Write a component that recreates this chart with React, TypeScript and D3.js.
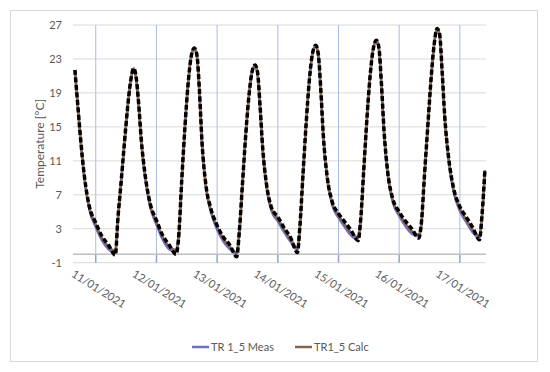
import React from "react";
import * as d3 from "d3";

const width = 550, height = 372;

// hours since 10/01/2021 00:00
const hours = [
  15.75, 17, 18, 19.5, 21.5,
  24, 26.5, 29, 31.75, 32.75, 34, 35.25, 36.5, 37.75, 39, 40, 41, 42, 43.5, 45.5,
  48, 50.5, 53, 55.75, 56.75, 58, 59.25, 60.5, 61.75, 63, 64, 65, 66, 67.5, 69.5,
  72, 74.5, 77, 79.75, 80.75, 82, 83.25, 84.5, 85.75, 87, 88, 89, 90, 91.5, 93.5,
  96, 98.5, 101, 103.75, 104.75, 106, 107.25, 108.5, 109.75, 111, 112, 113, 114, 115.5, 117.5,
  120, 122.5, 125, 127.75, 128.75, 130, 131.25, 132.5, 133.75, 135, 136, 137, 138, 139.5, 141.5,
  144, 146.5, 149, 151.75, 152.75, 154, 155.25, 156.5, 157.75, 159, 160, 161, 162, 163.5, 165.5,
  168, 170.5, 173, 175.75, 176.75, 177.9,
];

const measValues = [
  21.6, 17.0, 13.4, 9.0, 5.2,
  3.2, 1.6, 0.6, 0.2, 4.0, 8.4, 12.8, 17.0, 20.3, 21.8, 20.6, 17.3, 13.2, 9.1, 5.6,
  3.5, 1.7, 0.6, 0.3, 1.8, 8.6, 14.9, 20.0, 23.3, 24.2, 23.3, 19.0, 13.0, 8.0, 5.0,
  2.9, 1.5, 0.6, 0.0, 2.4, 8.1, 13.8, 18.4, 21.4, 22.2, 21.2, 17.1, 12.3, 8.0, 5.1,
  3.9, 2.6, 1.5, 0.5, 3.2, 9.5, 15.6, 20.6, 23.7, 24.5, 23.4, 19.1, 13.7, 8.9, 5.8,
  4.3, 3.2, 2.2, 1.8, 3.8, 9.9, 16.0, 21.0, 24.2, 25.1, 24.1, 19.7, 14.3, 9.3, 6.1,
  4.5, 3.3, 2.4, 2.1, 3.4, 9.2, 14.8, 20.2, 24.5, 26.5, 25.7, 21.2, 16.0, 11.2, 7.4,
  5.1, 3.8, 2.6, 1.9, 4.4, 9.8,
];

const calcValues = [
  21.7, 17.1, 13.5, 9.1, 5.4,
  3.5, 1.9, 0.9, 0.4, 4.1, 8.4, 12.8, 17.0, 20.3, 21.9, 20.7, 17.5, 13.4, 9.3, 5.8,
  3.8, 2.0, 0.9, 0.5, 1.9, 8.7, 14.9, 20.0, 23.3, 24.3, 23.4, 19.2, 13.2, 8.2, 5.2,
  3.2, 1.8, 0.9, 0.2, 2.5, 8.2, 13.8, 18.4, 21.4, 22.3, 21.3, 17.3, 12.5, 8.2, 5.3,
  4.2, 2.9, 1.8, 0.7, 3.3, 9.6, 15.6, 20.6, 23.7, 24.6, 23.5, 19.3, 13.9, 9.1, 6.0,
  4.6, 3.5, 2.5, 2.0, 3.9, 10.0, 16.0, 21.0, 24.2, 25.2, 24.2, 19.9, 14.5, 9.5, 6.3,
  4.8, 3.6, 2.7, 2.3, 3.5, 9.3, 14.8, 20.2, 24.5, 26.6, 25.8, 21.4, 16.2, 11.4, 7.6,
  5.4, 4.1, 2.9, 2.1, 4.5, 9.9,
];

// black dashed overlay (no legend entry)
const dashedValues = [
  21.7, 17.2, 13.6, 9.2, 5.6,
  3.7, 2.1, 1.1, -0.1, 4.2, 8.4, 12.8, 17.0, 20.3, 21.9, 20.8, 17.6, 13.5, 9.4, 6.0,
  4.0, 2.2, 1.1, 0.0, 1.9, 8.7, 14.9, 20.0, 23.3, 24.3, 23.5, 19.3, 13.3, 8.3, 5.4,
  3.4, 2.0, 1.1, -0.3, 2.6, 8.2, 13.8, 18.4, 21.4, 22.3, 21.4, 17.4, 12.6, 8.3, 5.5,
  4.4, 3.1, 2.0, 0.2, 3.4, 9.6, 15.6, 20.6, 23.7, 24.6, 23.6, 19.4, 14.0, 9.2, 6.2,
  4.8, 3.8, 2.8, 1.6, 4.0, 10.0, 16.0, 21.0, 24.2, 25.2, 24.3, 20.0, 14.6, 9.6, 6.5,
  5.0, 3.9, 3.0, 1.9, 3.6, 9.3, 14.8, 20.2, 24.5, 26.6, 25.9, 21.5, 16.3, 11.5, 7.8,
  5.6, 4.4, 3.2, 1.7, 4.6, 9.9,
];

const dayLabels = ["11/01/2021", "12/01/2021", "13/01/2021", "14/01/2021", "15/01/2021", "16/01/2021", "17/01/2021"];
const yTicks = [-1, 3, 7, 11, 15, 19, 23, 27];

const t0 = new Date(2021, 0, 10, 0, 0);
const toDate = (h: number) => new Date(t0.getTime() + h * 3600 * 1000);
const dayDates = dayLabels.map((_, i) => new Date(2021, 0, 11 + i));

const font = "Lato, 'Open Sans', sans-serif";
const textColor = "#595959";

export default function App() {
  const x = d3.scaleTime()
    .domain([new Date(2021, 0, 10, 15, 0), new Date(2021, 0, 17, 10, 20)])
    .range([73, 486]);
  const y = d3.scaleLinear().domain([-1, 27]).range([262.7, 25]);

  const line = (vals: number[]) =>
    d3.line<number>()
      .x((_, i) => x(toDate(hours[i])))
      .y(v => y(v))
      .curve(d3.curveMonotoneX)(vals) || "";

  const [x0, x1] = x.range();

  return (
    <svg width={width} height={height} style={{ position: "absolute", left: 0, top: 0 }}>
      <rect x={0} y={0} width={width} height={height} fill="#fff" />
      <rect x={10.5} y={10.5} width={527} height={351} fill="none" stroke="#d9d9d9" />

      {yTicks.map(t => (
        <g key={t}>
          <line x1={x0} x2={x1} y1={y(t)} y2={y(t)} stroke="#d9d9d9" strokeWidth={1} />
          <text x={62} y={y(t)} dy="0.35em" textAnchor="end" fontSize={11} fontFamily={font} fill={textColor}>{t}</text>
        </g>
      ))}

      {dayDates.map((d, i) => (
        <g key={i}>
          <line x1={x(d)} x2={x(d)} y1={y(27)} y2={y(0)} stroke="#a9bde0" strokeWidth={1} />
          <line x1={x(d)} x2={x(d)} y1={y(0)} y2={y(-1)} stroke="#8ea3cf" strokeWidth={1.5} />
          <text
            transform={`translate(${x(d) + 3},${289}) rotate(32)`}
            textAnchor="middle" dy="0.35em" fontSize={11} fontFamily={font} fill={textColor}
          >{dayLabels[i]}</text>
        </g>
      ))}

      <line x1={x0} x2={x1} y1={y(0)} y2={y(0)} stroke="#bfbfbf" strokeWidth={1.5} />

      <path d={line(measValues)} fill="none" stroke="#6f6fc4" strokeWidth={2.5} />
      <path d={line(calcValues)} fill="none" stroke="#85664a" strokeWidth={2.5} />
      <path d={line(dashedValues)} fill="none" stroke="#000" strokeWidth={3.5} strokeDasharray="5,2.5" />

      <text transform={`translate(40,${(y(27) + y(-1)) / 2}) rotate(-90)`} textAnchor="middle" dy="0.35em"
        fontSize={12} fontFamily={font} fill={textColor}>Temperature [°C]</text>

      <line x1={192} x2={209} y1={347} y2={347} stroke="#6f6fc4" strokeWidth={2.5} />
      <text x={211} y={347} dy="0.35em" fontSize={11} fontFamily={font} fill={textColor}>TR 1_5 Meas</text>
      <line x1={295} x2={312} y1={347} y2={347} stroke="#85664a" strokeWidth={2.5} />
      <text x={314} y={347} dy="0.35em" fontSize={11} fontFamily={font} fill={textColor}>TR1_5 Calc</text>
    </svg>
  );
}
